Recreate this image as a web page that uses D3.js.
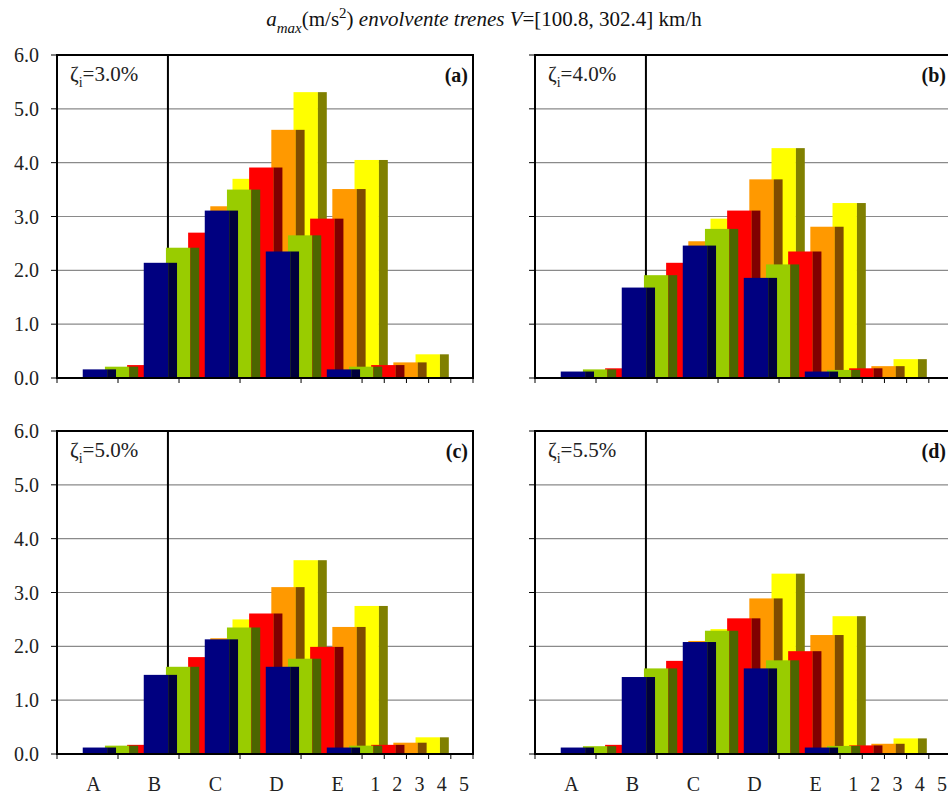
<!DOCTYPE html>
<html><head><meta charset="utf-8">
<script src="https://cdn.jsdelivr.net/npm/d3@7"></script>
<style>
body{margin:0;background:#fff}
svg{display:block;font-family:"Liberation Serif","Times New Roman",serif}
</style>
</head><body><svg id="chart" width="948" height="798"></svg>
<script>
// ---------- data ----------
const groups = ["A","B","C","D","E"];
const seriesLabels = ["1","2","3","4","5"];
const panelTags = ["(a)","(b)","(c)","(d)"];
const damping = ["3.0%","4.0%","5.0%","5.5%"];
const yTicks = [0,1,2,3,4,5,6];
// values[group][series]  (a_max, m/s2)
const valuesA = [
  [0.16,0.21,0.24,0.29,0.44],
  [2.14,2.42,2.70,3.19,3.70],
  [3.11,3.50,3.91,4.61,5.31],
  [2.35,2.65,2.96,3.51,4.05],
  [0.16,0.21,0.24,0.29,0.44]];
const valuesB = [
  [0.12,0.16,0.18,0.22,0.35],
  [1.68,1.91,2.14,2.54,2.96],
  [2.46,2.77,3.11,3.69,4.27],
  [1.86,2.11,2.35,2.81,3.25],
  [0.12,0.15,0.18,0.22,0.35]];
const valuesC = [
  [0.12,0.155,0.17,0.21,0.31],
  [1.47,1.62,1.80,2.15,2.50],
  [2.13,2.35,2.61,3.10,3.60],
  [1.62,1.77,1.99,2.36,2.75],
  [0.12,0.155,0.17,0.21,0.31]];
const valuesD = [
  [0.12,0.145,0.17,0.19,0.29],
  [1.43,1.59,1.73,2.10,2.32],
  [2.08,2.29,2.52,2.89,3.35],
  [1.59,1.74,1.91,2.21,2.56],
  [0.12,0.15,0.16,0.19,0.29]];
const panelValues = [valuesA, valuesB, valuesC, valuesD];
const frontColors = ["#000080","#99CC00","#FF0000","#FF9900","#FFFF00"];
const sideColors  = ["#00003C","#4C6600","#800000","#7F4C00","#808000"];

// ---------- layout ----------
const svg = d3.select("#chart");
const W = 416, H = 323;
const panelPos = [[57,55],[535,55],[57,431],[535,431]];
const GROUP_STEP = 2.75, SERIES_STEP = 1, FIRST = 1.16, BAR_W = 1.5, FRONT_W = 1.1, MARK = 5.0;
const TOTAL = groups.length*GROUP_STEP + seriesLabels.length*SERIES_STEP;

const x = d3.scaleLinear().domain([0, TOTAL]).range([0, W]);
const y = d3.scaleLinear().domain([0, 6]).range([H, 0]);

// tick boundaries: letters span a group step, digits a series step
const steps = groups.map(()=>GROUP_STEP).concat(seriesLabels.map(()=>SERIES_STEP));
const bounds = [0, ...d3.cumsum(steps)];
const tickLabels = groups.concat(seriesLabels);

// title
const title = svg.append("text").attr("x", 484).attr("y", 26)
  .attr("text-anchor","middle").attr("font-size", 21).attr("fill","#111");
title.append("tspan").attr("font-style","italic").text("a");
title.append("tspan").attr("font-style","italic").attr("font-size",15).attr("dy",7).text("max");
title.append("tspan").attr("dy",-7).text("(m/s");
title.append("tspan").attr("font-size",15).attr("dy",-8).text("2");
title.append("tspan").attr("dy",8).text(")");
title.append("tspan").attr("font-style","italic").text(" envolvente trenes V");
title.append("tspan").text("=[100.8, 302.4] km/h");

panelValues.forEach((vals, pi) => {
  const [px, py] = panelPos[pi];
  const g = svg.append("g").attr("transform", `translate(${px},${py})`);
  const left = pi % 2 === 0, bottom = pi >= 2;

  // gridlines
  g.append("g").selectAll("line").data(yTicks.slice(1, -1)).join("line")
    .attr("x1", 0).attr("x2", W).attr("y1", d=>y(d)).attr("y2", d=>y(d))
    .attr("stroke", "#8a8a8a").attr("stroke-width", 1.2);

  // marker line
  g.append("line").attr("x1", x(MARK)).attr("x2", x(MARK)).attr("y1", 0).attr("y2", H)
    .attr("stroke", "#000").attr("stroke-width", 2);

  // bars: later groups on top, earlier series on top within a group
  vals.forEach((row, gi) => {
    for (let si = row.length - 1; si >= 0; si--) {
      const x0 = FIRST + gi*GROUP_STEP + si*SERIES_STEP;
      const v = row[si];
      g.append("rect").attr("x", x(x0)).attr("y", y(v))
        .attr("width", x(x0+FRONT_W)-x(x0)).attr("height", y(0)-y(v))
        .attr("fill", frontColors[si]);
      g.append("rect").attr("x", x(x0+FRONT_W)).attr("y", y(v))
        .attr("width", x(x0+BAR_W)-x(x0+FRONT_W)).attr("height", y(0)-y(v))
        .attr("fill", sideColors[si]);
    }
  });

  // frame
  g.append("rect").attr("x",0).attr("y",0).attr("width",W).attr("height",H)
    .attr("fill","none").attr("stroke","#000").attr("stroke-width",2);

  // y ticks
  g.append("g").selectAll("line").data(yTicks).join("line")
    .attr("x1",-6).attr("x2",0).attr("y1",d=>y(d)).attr("y2",d=>y(d))
    .attr("stroke","#000").attr("stroke-width",1);
  if (left) {
    g.append("g").selectAll("text").data(yTicks).join("text")
      .attr("x",-18).attr("y",d=>y(d)).attr("dy","0.35em")
      .attr("text-anchor","end").attr("font-size",20).attr("fill","#222")
      .text(d=>d3.format(".1f")(d));
  }
  // x ticks
  g.append("g").selectAll("line").data(bounds).join("line")
    .attr("x1",d=>x(d)).attr("x2",d=>x(d)).attr("y1",H).attr("y2",H+5)
    .attr("stroke","#000").attr("stroke-width",1);
  if (bottom) {
    g.append("g").selectAll("text").data(tickLabels).join("text")
      .attr("x",(d,i)=>x((bounds[i]+bounds[i+1])/2) + (i < groups.length ? 6 : 2))
      .attr("y", H+37).attr("text-anchor","middle").attr("font-size",20).attr("fill","#222")
      .text(d=>d);
  }

  // damping label
  const zl = g.append("text").attr("x",13).attr("y",26).attr("font-size",21).attr("fill","#222");
  zl.append("tspan").text("ζ");
  zl.append("tspan").attr("font-size",14).attr("dy",6).text("i");
  zl.append("tspan").attr("dy",-6).text("=" + damping[pi]);

  // panel tag
  g.append("text").attr("x", W-5).attr("y",27).attr("text-anchor","end")
    .attr("font-size",20).attr("font-weight","bold").attr("fill","#111").text(panelTags[pi]);
});
</script></body></html>
